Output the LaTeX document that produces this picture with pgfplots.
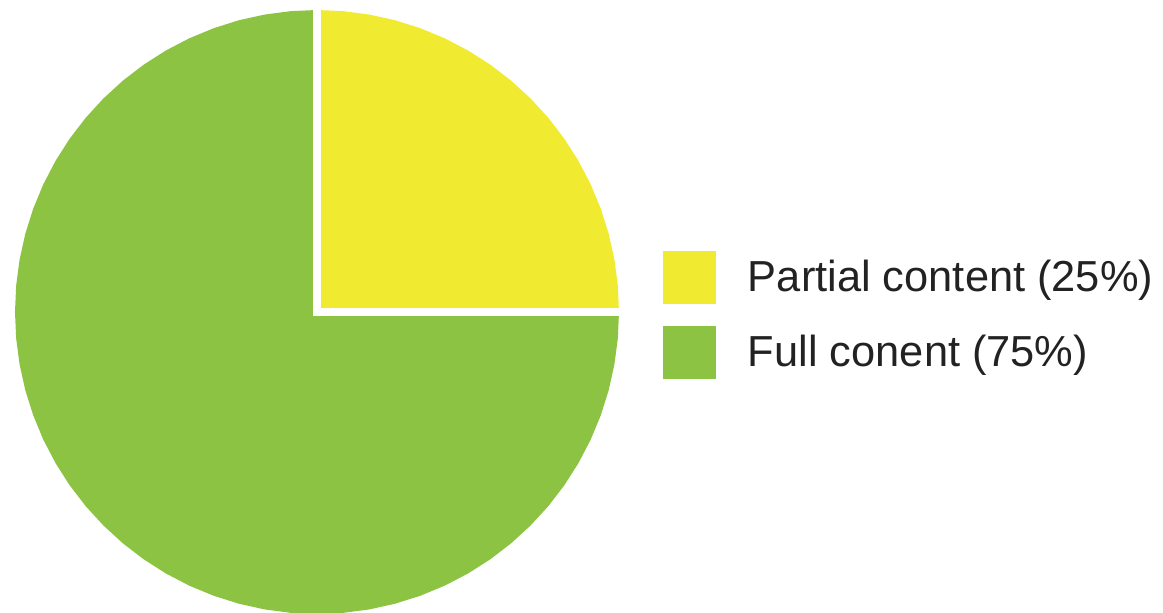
\documentclass[border=0pt]{standalone}
\usepackage{pgfplots}
\pgfplotsset{compat=1.18}
\usepgfplotslibrary{polar}
\usepackage{fontspec}
\setmainfont{Liberation Sans}
\definecolor{pieyellow}{RGB}{240,235,48}
\definecolor{piegreen}{RGB}{140,195,66}
\definecolor{txt}{RGB}{34,34,34}
\begin{document}
\begin{tikzpicture}
\useasboundingbox (0,0) rectangle (581.5pt,306.5pt);
\begin{polaraxis}[
  at={(158.5pt,150.5pt)}, anchor=center,
  hide axis, scale only axis, width=302pt, height=302pt,
  ymin=0, ymax=1, xmin=0, xmax=360,
  clip=false,
  legend cell align=left,
  legend style={at={(1.0728,0.601)}, anchor=north west, draw=none, fill=none,
    font=\fontsize{21.7pt}{26pt}\selectfont, text=txt, inner sep=0pt, outer sep=0pt,
    row sep=11pt, column sep=16pt, nodes={inner sep=0pt}},
  legend image code/.code={\fill[#1] (0pt,-13.25pt) rectangle (26.5pt,13.25pt);},
]
\addplot[fill=pieyellow, draw=none] coordinates {(0,0) (0,1) (5,1) (10,1) (15,1) (20,1) (25,1) (30,1) (35,1) (40,1) (45,1) (50,1) (55,1) (60,1) (65,1) (70,1) (75,1) (80,1) (85,1) (90,1) (0,0)};
\addlegendentry{Partial content (25\%)}
\addplot[fill=piegreen, draw=none] coordinates {(0,0) (90,1) (95,1) (100,1) (105,1) (110,1) (115,1) (120,1) (125,1) (130,1) (135,1) (140,1) (145,1) (150,1) (155,1) (160,1) (165,1) (170,1) (175,1) (180,1) (185,1) (190,1) (195,1) (200,1) (205,1) (210,1) (215,1) (220,1) (225,1) (230,1) (235,1) (240,1) (245,1) (250,1) (255,1) (260,1) (265,1) (270,1) (275,1) (280,1) (285,1) (290,1) (295,1) (300,1) (305,1) (310,1) (315,1) (320,1) (325,1) (330,1) (335,1) (340,1) (345,1) (350,1) (355,1) (360,1) (0,0)};
\addlegendentry{Full conent (75\%)}
\addplot[white, line width=4pt, line join=miter, forget plot] coordinates {(90,1.01) (0,0) (0,1.01)};
\end{polaraxis}
\end{tikzpicture}
\end{document}
